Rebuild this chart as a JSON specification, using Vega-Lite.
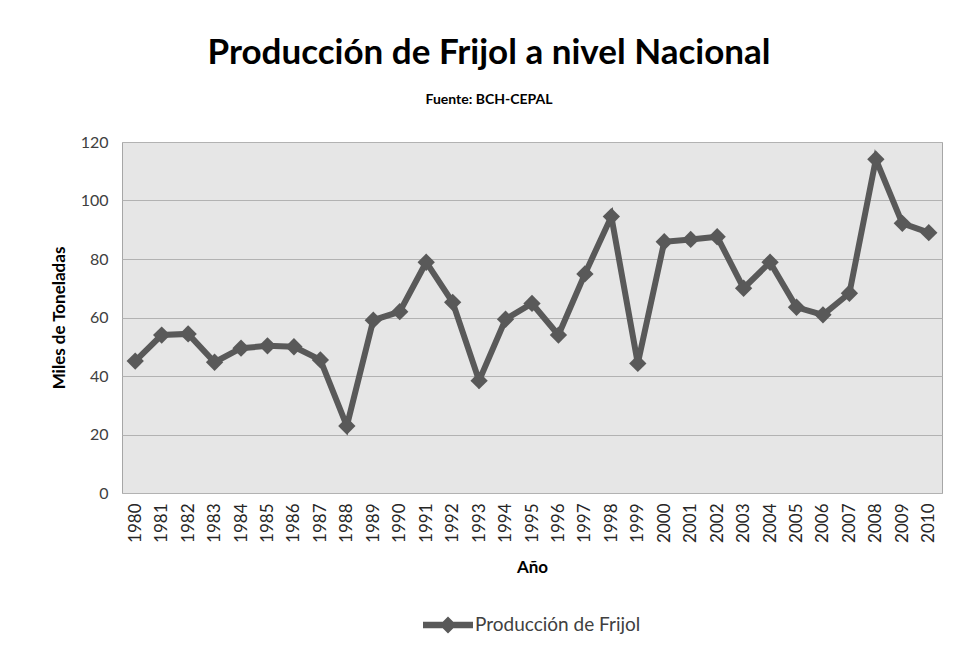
{
  "$schema": "https://vega.github.io/schema/vega-lite/v6.json",
  "autosize": "none",
  "width": 820,
  "height": 351,
  "padding": {"left": 122, "top": 142, "right": 14, "bottom": 158},
  "background": "white",
  "title": {
    "text": "Producción de Frijol a nivel Nacional",
    "subtitle": "Fuente: BCH-CEPAL",
    "anchor": "middle",
    "dx": -43,
    "font": "Lato",
    "fontSize": 35,
    "fontWeight": "bold",
    "color": "#000000",
    "subtitleFont": "Lato",
    "subtitleFontSize": 14,
    "subtitleFontWeight": "bold",
    "subtitleColor": "#000000",
    "subtitlePadding": 22,
    "offset": 27
  },
  "data": {
    "values": [
      {"anio": "1980", "valor": 45.1, "serie": "Producción de Frijol"},
      {"anio": "1981", "valor": 54.0, "serie": "Producción de Frijol"},
      {"anio": "1982", "valor": 54.4, "serie": "Producción de Frijol"},
      {"anio": "1983", "valor": 44.7, "serie": "Producción de Frijol"},
      {"anio": "1984", "valor": 49.5, "serie": "Producción de Frijol"},
      {"anio": "1985", "valor": 50.3, "serie": "Producción de Frijol"},
      {"anio": "1986", "valor": 50.0, "serie": "Producción de Frijol"},
      {"anio": "1987", "valor": 45.5, "serie": "Producción de Frijol"},
      {"anio": "1988", "valor": 22.9, "serie": "Producción de Frijol"},
      {"anio": "1989", "valor": 59.1, "serie": "Producción de Frijol"},
      {"anio": "1990", "valor": 62.0, "serie": "Producción de Frijol"},
      {"anio": "1991", "valor": 78.9, "serie": "Producción de Frijol"},
      {"anio": "1992", "valor": 65.2, "serie": "Producción de Frijol"},
      {"anio": "1993", "valor": 38.4, "serie": "Producción de Frijol"},
      {"anio": "1994", "valor": 59.4, "serie": "Producción de Frijol"},
      {"anio": "1995", "valor": 64.8, "serie": "Producción de Frijol"},
      {"anio": "1996", "valor": 54.0, "serie": "Producción de Frijol"},
      {"anio": "1997", "valor": 74.9, "serie": "Producción de Frijol"},
      {"anio": "1998", "valor": 94.5, "serie": "Producción de Frijol"},
      {"anio": "1999", "valor": 44.3, "serie": "Producción de Frijol"},
      {"anio": "2000", "valor": 85.9, "serie": "Producción de Frijol"},
      {"anio": "2001", "valor": 86.7, "serie": "Producción de Frijol"},
      {"anio": "2002", "valor": 87.6, "serie": "Producción de Frijol"},
      {"anio": "2003", "valor": 70.0, "serie": "Producción de Frijol"},
      {"anio": "2004", "valor": 78.9, "serie": "Producción de Frijol"},
      {"anio": "2005", "valor": 63.5, "serie": "Producción de Frijol"},
      {"anio": "2006", "valor": 60.9, "serie": "Producción de Frijol"},
      {"anio": "2007", "valor": 68.3, "serie": "Producción de Frijol"},
      {"anio": "2008", "valor": 114.1, "serie": "Producción de Frijol"},
      {"anio": "2009", "valor": 92.2, "serie": "Producción de Frijol"},
      {"anio": "2010", "valor": 89.0, "serie": "Producción de Frijol"}
    ]
  },
  "mark": {
    "type": "line",
    "strokeWidth": 6,
    "point": {"shape": "diamond", "size": 300, "filled": true, "opacity": 1}
  },
  "encoding": {
    "x": {
      "field": "anio",
      "type": "ordinal",
      "axis": {
        "title": "Año",
        "labelAngle": -90,
        "labelPadding": 10,
        "ticks": false,
        "domain": false,
        "labelFont": "Lato",
        "labelFontSize": 17,
        "labelColor": "#262626",
        "titleFont": "Lato",
        "titleFontSize": 17,
        "titleFontWeight": "bold",
        "titleColor": "#000000",
        "titlePadding": 17
      }
    },
    "y": {
      "field": "valor",
      "type": "quantitative",
      "scale": {"domain": [0, 120]},
      "axis": {
        "title": "Miles de Toneladas",
        "values": [0, 20, 40, 60, 80, 100, 120],
        "ticks": false,
        "domain": false,
        "grid": true,
        "gridColor": "#b2b2b2",
        "gridWidth": 1,
        "labelPadding": 14,
        "labelFont": "Lato",
        "labelFontSize": 16,
        "labelColor": "#404040",
        "titleFont": "Lato",
        "titleFontSize": 17,
        "titleFontWeight": "bold",
        "titleColor": "#000000",
        "titlePadding": 12
      }
    },
    "color": {
      "field": "serie",
      "type": "nominal",
      "scale": {"range": ["#595959"]},
      "legend": {
        "title": null,
        "orient": "bottom",
        "direction": "horizontal",
        "offset": 24,
        "labelFont": "Lato",
        "labelFontSize": 19,
        "labelLimit": 500,
        "labelColor": "#404040",
        "labelOffset": 2,
        "symbolType": "M-1,-0.13H1V0.13H-1Z M0,-0.34L0.34,0L0,0.34L-0.34,0Z",
        "symbolSize": 2500,
        "encode": {
          "symbols": {
            "update": {
              "fill": {"value": "#595959"},
              "stroke": {"value": "#595959"},
              "strokeWidth": {"value": 0},
              "opacity": {"value": 1}
            }
          }
        }
      }
    }
  },
  "config": {
    "view": {"fill": "#e6e6e6", "stroke": "#a6a6a6", "strokeWidth": 1},
    "legend": {"layout": {"bottom": {"anchor": "middle"}}}
  }
}
